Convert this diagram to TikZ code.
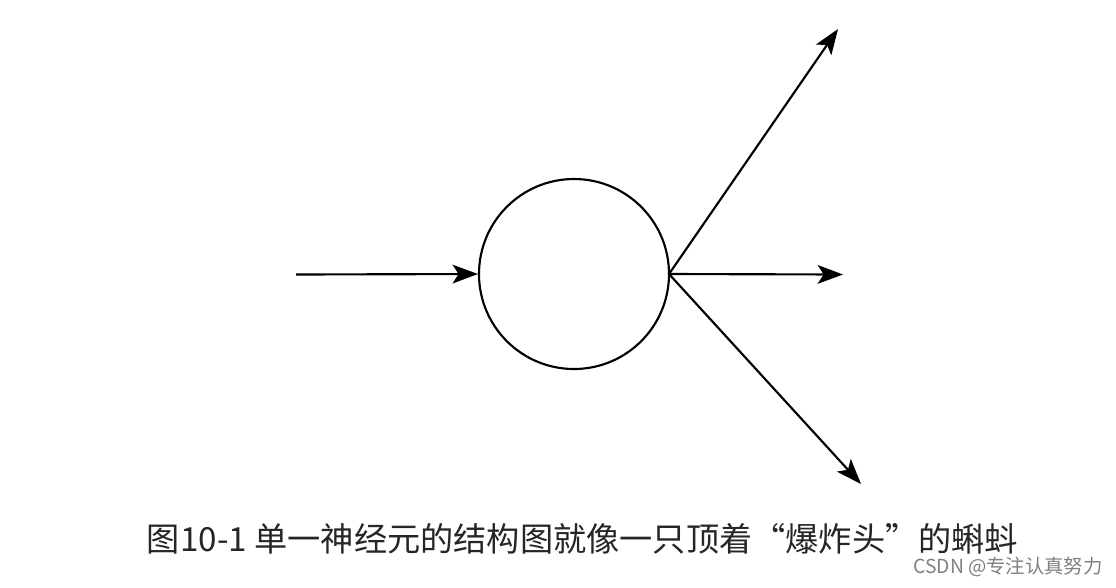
\documentclass[tikz,border=0pt]{standalone}
\usepackage{fontspec}
\usetikzlibrary{arrows.meta}
\newfontfamily\cjk{Noto Sans CJK SC}
\tikzset{
  link/.style={line width=1.6pt,black,-{Stealth[length=19pt,width=14pt,inset=4.5pt]}},
  title/.style={anchor=center,inner sep=0pt,font=\cjk\fontsize{24.9pt}{28pt}\selectfont,text=black!85},
  mark text/.style={anchor=center,inner sep=0pt,font=\cjk\fontsize{14.5pt}{16pt}\selectfont,text=black!50}
}
\begin{document}
\begin{tikzpicture}[x=0.75pt,y=-0.75pt]
\useasboundingbox (0,0) rectangle (1116,587);
\fill[white] (0,0) rectangle (1116,587);
\node[circle,draw,line width=1.6pt,minimum size=142.5pt,inner sep=0pt] (n) at (574,274) {};
\coordinate (s) at (296,274.5);
\coordinate (o) at (669,274);
\coordinate (a) at (838,29);
\coordinate (b) at (843,274.5);
\coordinate (c) at (861,484);
\draw[link] (s) -- (n.west);
\draw[link] (o) -- (a);
\draw[link] (o) -- (b);
\draw[link] (o) -- (c);
\node[title] (t) at (582.5,539) {图10-1 单一神经元的结构图就像一只顶着“爆炸头”的蝌蚪};
\node[mark text] (w) at (1008,567) {CSDN @专注认真努力};
\end{tikzpicture}
\end{document}
